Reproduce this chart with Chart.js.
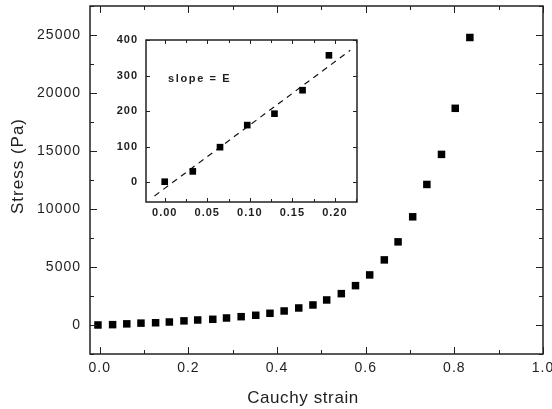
<!DOCTYPE html>
<html>
<head>
<meta charset="utf-8">
<script src="https://cdn.jsdelivr.net/npm/chart.js@4"></script>
<style>
  html, body { margin: 0; padding: 0; background: #fff; }
  #wrap { position: relative; width: 552px; height: 409px; }
  #main { position: absolute; left: 0; top: 0; }
  #inset { position: absolute; left: 100px; top: 30px; }
</style>
</head>
<body>
<div id="wrap">
  <canvas id="main" width="552" height="409"></canvas>
  <canvas id="inset" width="265" height="195"></canvas>
</div>
<script>
// main curve: Cauchy strain vs stress (Pa)
var strain = [-0.004, 0.029, 0.061, 0.093, 0.126, 0.157, 0.190, 0.221, 0.255, 0.286,
  0.319, 0.352, 0.384, 0.416, 0.449, 0.481, 0.512, 0.545, 0.577, 0.609,
  0.642, 0.673, 0.706, 0.738, 0.771, 0.802, 0.835];
var stress = [2, 31, 99, 161, 193, 259, 357, 432, 492, 605,
  717, 838, 1010, 1209, 1468, 1727, 2159, 2703, 3394, 4318,
  5613, 7168, 9327, 12116, 14707, 18680, 24785];

// inset: linear region
var insetStrain = [0.0, 0.033, 0.065, 0.097, 0.129, 0.162, 0.193];
var insetStress = [2, 31, 99, 161, 193, 259, 357];
var fitStrain = [-0.012, 0.218];
var fitStress = [-38, 371];

var xTitle = 'Cauchy strain';
var yTitle = 'Stress (Pa)';
var note = 'slope = E';

var textColor = '#1e1e1e';
var font = "'Liberation Sans', Arial, sans-serif";

function toXY(xs, ys) {
  var out = [];
  for (var i = 0; i < xs.length; i++) out.push({ x: xs[i], y: ys[i] });
  return out;
}

// a bit of letter spacing like the scanned original
var spacing = {
  id: 'spacing',
  beforeDraw: function (chart, args, opts) {
    chart.ctx.letterSpacing = opts.value;
  }
};

// frame + inward ticks on all four sides
var frameTicks = {
  id: 'frameTicks',
  afterDraw: function (chart, args, opts) {
    var ctx = chart.ctx;
    var a = chart.chartArea;
    var xs = chart.scales.x, ys = chart.scales.y;
    ctx.save();
    ctx.strokeStyle = opts.color;
    ctx.lineWidth = opts.width;
    ctx.beginPath();
    xs.ticks.forEach(function (t) {
      var px = Math.round(xs.getPixelForValue(t.value)) + 0.5;
      var len = t.label !== '' ? opts.major : opts.minor;
      ctx.moveTo(px, a.bottom); ctx.lineTo(px, a.bottom - len);
      ctx.moveTo(px, a.top); ctx.lineTo(px, a.top + len);
    });
    ys.ticks.forEach(function (t) {
      var py = Math.round(ys.getPixelForValue(t.value)) + 0.5;
      var len = t.label !== '' ? opts.major : opts.minor;
      ctx.moveTo(a.left, py); ctx.lineTo(a.left + len, py);
      ctx.moveTo(a.right, py); ctx.lineTo(a.right - len, py);
    });
    ctx.stroke();
    ctx.lineWidth = opts.frame;
    ctx.strokeRect(a.left, a.top, a.right - a.left, a.bottom - a.top);
    ctx.restore();
  }
};

// axis titles sit off-centre in the original, so draw them by hand
var titles = {
  id: 'titles',
  afterDraw: function (chart) {
    var ctx = chart.ctx;
    ctx.save();
    ctx.fillStyle = textColor;
    ctx.font = '17px ' + font;
    ctx.letterSpacing = '0.6px';
    ctx.textAlign = 'center';
    ctx.textBaseline = 'middle';
    ctx.fillText(xTitle, 303, 398);
    ctx.translate(18, 166);
    ctx.rotate(-Math.PI / 2);
    ctx.letterSpacing = '1px';
    ctx.fillText(yTitle, 0, 0);
    ctx.restore();
  }
};

var slopeLabel = {
  id: 'slopeLabel',
  afterDraw: function (chart) {
    var ctx = chart.ctx;
    ctx.save();
    ctx.fillStyle = textColor;
    ctx.font = 'bold 11px ' + font;
    ctx.letterSpacing = '1.6px';
    ctx.textBaseline = 'middle';
    ctx.fillText(note, chart.scales.x.getPixelForValue(0.004), chart.scales.y.getPixelForValue(290));
    ctx.restore();
  }
};

new Chart(document.getElementById('main').getContext('2d'), {
  type: 'scatter',
  data: {
    datasets: [{
      data: toXY(strain, stress),
      pointStyle: 'rect',
      pointRadius: 5.3,
      pointBorderWidth: 0,
      backgroundColor: '#000'
    }]
  },
  options: {
    responsive: false,
    animation: false,
    layout: { padding: { top: 6, right: 9, left: 0, bottom: 0 } },
    plugins: {
      legend: { display: false },
      tooltip: { enabled: false },
      spacing: { value: '1px' },
      frameTicks: { color: '#222', width: 1, frame: 1.5, major: 7, minor: 4 }
    },
    scales: {
      x: {
        type: 'linear',
        min: -0.022,
        max: 1.0,
        grid: { display: false, drawTicks: false },
        border: { display: false },
        ticks: {
          stepSize: 0.1,
          includeBounds: false,
          autoSkip: false,
          maxRotation: 0,
          padding: 6,
          color: textColor,
          font: { family: font, size: 14 },
          callback: function (v) {
            return Math.round(v * 10) % 2 === 0 ? v.toFixed(1) : '';
          }
        },
        afterFit: function (s) { s.height = 55; s.paddingLeft = 0; s.paddingRight = 0; }
      },
      y: {
        type: 'linear',
        min: -2500,
        max: 27500,
        grid: { display: false, drawTicks: false },
        border: { display: false },
        ticks: {
          stepSize: 2500,
          includeBounds: false,
          autoSkip: false,
          padding: 9,
          color: textColor,
          font: { family: font, size: 14 },
          callback: function (v) {
            return v % 5000 === 0 ? String(v) : '';
          }
        },
        afterFit: function (s) { s.width = 90; s.paddingTop = 0; s.paddingBottom = 0; }
      }
    }
  },
  plugins: [spacing, frameTicks, titles]
});

new Chart(document.getElementById('inset').getContext('2d'), {
  type: 'scatter',
  data: {
    datasets: [{
      data: toXY(insetStrain, insetStress),
      pointStyle: 'rect',
      pointRadius: 4.7,
      pointBorderWidth: 0,
      backgroundColor: '#000'
    }, {
      type: 'line',
      data: toXY(fitStrain, fitStress),
      borderColor: '#111',
      borderWidth: 1.2,
      borderDash: [6, 5],
      pointRadius: 0,
      fill: false
    }]
  },
  options: {
    responsive: false,
    animation: false,
    layout: { padding: { top: 10, right: 8, left: 0, bottom: 0 } },
    plugins: {
      legend: { display: false },
      tooltip: { enabled: false },
      spacing: { value: '1px' },
      frameTicks: { color: '#222', width: 1, frame: 1.5, major: 4, minor: 3 }
    },
    scales: {
      x: {
        type: 'linear',
        min: -0.022,
        max: 0.226,
        grid: { display: false, drawTicks: false },
        border: { display: false },
        ticks: {
          stepSize: 0.025,
          includeBounds: false,
          autoSkip: false,
          maxRotation: 0,
          padding: 4,
          color: textColor,
          font: { family: font, size: 11, weight: 'bold' },
          callback: function (v) {
            return Math.round(v * 1000) % 50 === 0 ? v.toFixed(2) : '';
          }
        },
        afterFit: function (s) { s.height = 23; s.paddingLeft = 0; s.paddingRight = 0; }
      },
      y: {
        type: 'linear',
        min: -55,
        max: 400,
        grid: { display: false, drawTicks: false },
        border: { display: false },
        ticks: {
          stepSize: 100,
          includeBounds: false,
          autoSkip: false,
          padding: 8,
          color: textColor,
          font: { family: font, size: 11, weight: 'bold' }
        },
        afterFit: function (s) { s.width = 46; s.paddingTop = 0; s.paddingBottom = 0; }
      }
    }
  },
  plugins: [spacing, frameTicks, slopeLabel]
});
</script>
</body>
</html>
